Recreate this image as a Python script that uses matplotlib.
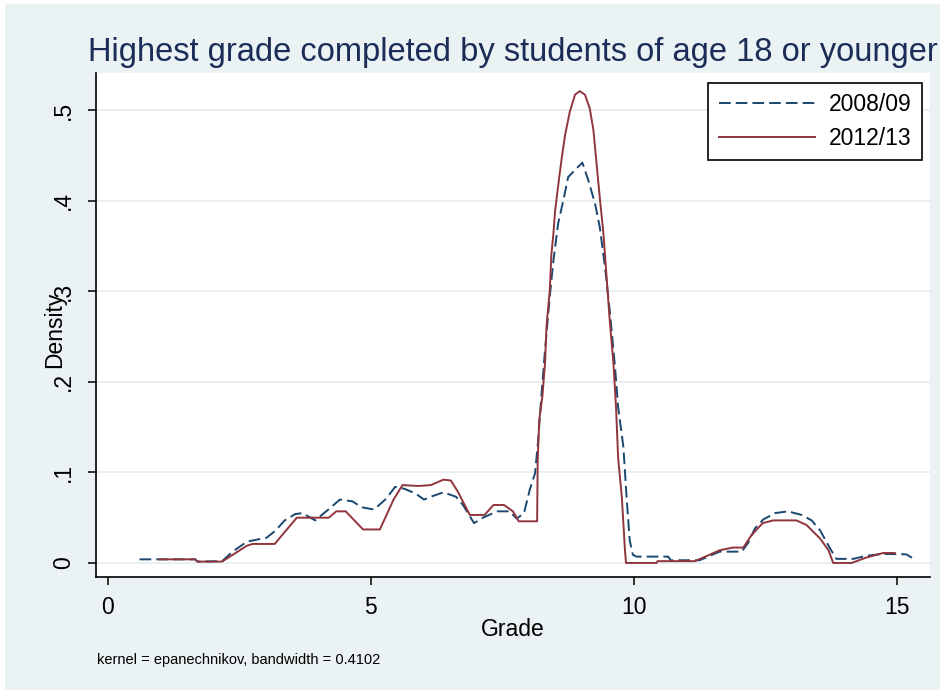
import matplotlib
matplotlib.use("Agg")
import matplotlib.pyplot as plt
from matplotlib.patches import Rectangle

plt.rcParams["font.family"] = ["Liberation Sans", "DejaVu Sans"]

# Kernel density curves (grade, density)
grade_0809 = [0.60, 1.66, 1.70, 2.17, 2.37, 2.64, 3.02, 3.19, 3.36, 3.56, 3.70, 3.94,
              4.17, 4.41, 4.65, 4.82, 5.06, 5.29, 5.46, 5.63, 5.84, 6.01, 6.18, 6.38,
              6.62, 6.75, 6.96, 7.13, 7.40, 7.64, 7.77, 7.91, 8.02, 8.12, 8.18, 8.24,
              8.31, 8.40, 8.47, 8.56, 8.66, 8.75, 8.88, 9.02, 9.13, 9.26, 9.35, 9.45,
              9.54, 9.64, 9.70, 9.80, 9.86, 9.92, 9.98, 10.05, 10.65, 10.70, 11.25,
              11.63, 12.05, 12.17, 12.30, 12.46, 12.68, 12.93, 13.19, 13.38, 13.54,
              13.73, 13.85, 14.17, 14.42, 14.74, 15.18, 15.31]
dens_0809 = [0.004, 0.004, 0.0015, 0.002, 0.0125, 0.0235, 0.028, 0.036, 0.047, 0.054,
             0.055, 0.047, 0.058, 0.070, 0.068, 0.0615, 0.059, 0.071, 0.084, 0.082,
             0.077, 0.070, 0.074, 0.078, 0.073, 0.064, 0.044, 0.050, 0.057, 0.057,
             0.049, 0.055, 0.081, 0.099, 0.136, 0.184, 0.235, 0.294, 0.334, 0.375,
             0.401, 0.426, 0.434, 0.442, 0.423, 0.397, 0.371, 0.327, 0.279, 0.217,
             0.172, 0.128, 0.073, 0.025, 0.009, 0.007, 0.007, 0.003, 0.003, 0.0125,
             0.0125, 0.022, 0.038, 0.048, 0.055, 0.057, 0.053, 0.047, 0.036, 0.016,
             0.0045, 0.0045, 0.008, 0.010, 0.0095, 0.005]

grade_1213 = [0.98, 1.66, 1.70, 2.17, 2.64, 2.75, 3.17, 3.59, 4.20, 4.34, 4.52, 4.85,
              5.17, 5.43, 5.60, 5.90, 6.14, 6.38, 6.52, 6.65, 6.88, 7.16, 7.33, 7.53,
              7.70, 7.81, 8.16, 8.17, 8.20, 8.26, 8.31, 8.34, 8.40, 8.43, 8.47, 8.50,
              8.58, 8.63, 8.69, 8.78, 8.88, 8.97, 9.07, 9.16, 9.23, 9.29, 9.35, 9.42,
              9.48, 9.54, 9.61, 9.66, 9.70, 9.77, 9.83, 9.85, 10.43, 10.45, 11.16,
              11.63, 11.88, 12.08, 12.24, 12.45, 12.65, 13.09, 13.28, 13.54, 13.70,
              13.79, 14.14, 14.42, 14.74, 14.96]
dens_1213 = [0.004, 0.004, 0.0015, 0.0015, 0.019, 0.021, 0.021, 0.050, 0.050, 0.057,
             0.057, 0.037, 0.037, 0.070, 0.086, 0.085, 0.086, 0.092, 0.091, 0.079,
             0.053, 0.053, 0.064, 0.064, 0.057, 0.046, 0.046, 0.112, 0.158, 0.184,
             0.221, 0.263, 0.301, 0.340, 0.364, 0.388, 0.426, 0.448, 0.472, 0.498,
             0.517, 0.521, 0.517, 0.502, 0.478, 0.441, 0.404, 0.364, 0.316, 0.268,
             0.221, 0.172, 0.116, 0.073, 0.014, 0.0, 0.0, 0.002, 0.002, 0.014, 0.017,
             0.017, 0.031, 0.044, 0.047, 0.047, 0.042, 0.027, 0.014, 0.0, 0.0, 0.006,
             0.011, 0.011]

x_ticks = [0, 5, 10, 15]
y_ticks = [0, 0.1, 0.2, 0.3, 0.4, 0.5]
y_ticklabels = ["0", ".1", ".2", ".3", ".4", ".5"]

navy = "#1A476F"
maroon = "#90353B"
region_bg = "#EAF2F3"

fig = plt.figure(figsize=(9.43, 6.94), dpi=100, facecolor="white")
# light bluish graph region with a thin white border, kept behind the axes
bg = Rectangle((5 / 943, 4 / 694), 935 / 943, 686 / 694,
               transform=fig.transFigure, facecolor=region_bg,
               edgecolor="none", zorder=-10)
fig.patches.append(bg)

ax = fig.add_axes([96 / 943, 117 / 694, 834 / 943, 504 / 694])
ax.set_facecolor("white")

ax.plot(grade_0809, dens_0809, color=navy, lw=1.4, dashes=(6, 2.6), label="2008/09")
ax.plot(grade_1213, dens_1213, color=maroon, lw=1.4, label="2012/13")

ax.set_xlim(-0.228, 15.63)
ax.set_ylim(-0.0155, 0.541)
ax.set_xticks(x_ticks)
ax.set_yticks(y_ticks)
ax.set_yticklabels(y_ticklabels, rotation=90, va="center")
ax.grid(axis="y", color="#E3ECEF", lw=1.2)
ax.set_axisbelow(True)

for side in ["top", "right"]:
    ax.spines[side].set_visible(False)
for side in ["left", "bottom"]:
    ax.spines[side].set_linewidth(1.2)
ax.tick_params(axis="both", direction="out", length=6, width=1.1,
               labelsize=16.5, colors="black")
ax.tick_params(axis="y", pad=9)
ax.tick_params(axis="x", pad=8)

ax.set_xlabel("Grade", fontsize=16.5)
ax.xaxis.set_label_coords(0.5, (577 - 630) / 504, transform=ax.transAxes)
ax.xaxis.label.set_va("center")
ax.set_ylabel("Density", fontsize=16.5)
ax.yaxis.set_label_coords((55 - 96) / 834, (577 - 330) / 504)
ax.yaxis.label.set_va("center")

ax.set_title("Highest grade completed by students of age 18 or younger",
             fontsize=23.5, color="#1c2c58", pad=9)

leg = ax.legend(loc="upper right", bbox_to_anchor=(0.990, 0.980),
                borderaxespad=0, fontsize=16.5, handlelength=4.2,
                labelspacing=0.45, fancybox=False, framealpha=1,
                edgecolor="black", borderpad=0.45, handletextpad=0.6)
leg.get_frame().set_linewidth(1.2)

fig.text(97 / 943, 1 - 660 / 694, "kernel = epanechnikov, bandwidth = 0.4102",
         fontsize=10.5, va="center", ha="left")

fig.savefig("out.png", dpi=100, facecolor="white")
